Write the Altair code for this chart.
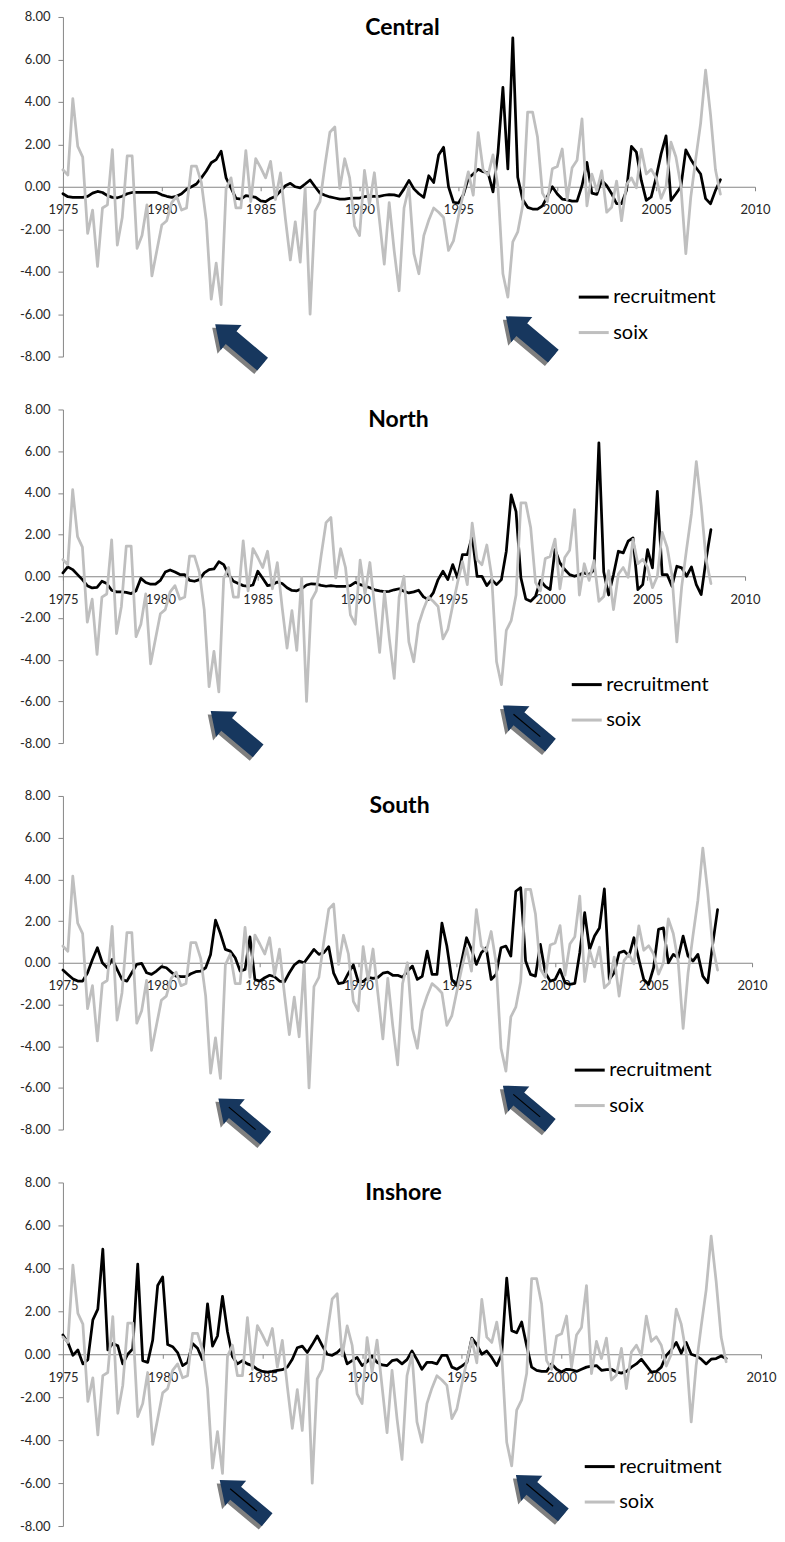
import altair as alt
import pandas as pd

# ---------------- data (quarterly, 1975 Q1 .. 2008 Q2) ----------------
SOIX = [0.8, 0.55, 4.15, 1.9, 1.4, -2.2, -1.1, -3.75, -1.0, -0.85,
        1.75, -2.75, -1.45, 1.45, 1.45, -2.9, -2.3, -0.85, -4.2, -3.0,
        -1.8, -1.6, -0.75, -0.45, -1.1, -1.0, 0.97, 0.97, 0.2, -1.6,
        -5.3, -3.6, -5.55, -0.1, 0.42, -1.0, -1.0, 1.7, -0.7, 1.33,
        0.9, 0.42, 1.2, -0.6, 0.65, -1.5, -3.45, -1.65, -3.55, -0.05,
        -6.0, -1.15, -0.7, 1.0, 2.57, 2.82, -0.08, 1.32, 0.42, -1.85,
        -2.3, 0.77, -0.85, 0.66, -1.5, -3.65, -0.75, -3.0, -4.9, -1.0,
        0.0, -3.15, -4.1, -2.3, -1.58, -1.0, -1.2, -1.45, -3.0, -2.55,
        -1.4, -0.3, 0.7, -0.4, 2.55, 0.8, 0.55, 1.5, 0.0, -4.1,
        -5.2, -2.6, -2.13, -0.9, 3.52, 3.52, 2.34, -0.3, -0.7, 0.85,
        0.95, 1.78, -0.6, 0.9, 1.25, 3.2, -0.9, 0.6, -0.2, 0.75,
        -1.2, -0.97, 0.27, -1.6, 0.1, 0.42, -0.05, 1.77, 0.6, 0.82,
        0.42, -0.55, 0.0, 2.1, 1.4, 0.05, -3.15, -0.5, 1.3, 3.0,
        5.5, 3.4, 0.8, -0.35]

CENTRAL = [-0.33, -0.47, -0.5, -0.5, -0.5, -0.45, -0.3, -0.22, -0.27, -0.42,
           -0.5, -0.52, -0.45, -0.33, -0.27, -0.27, -0.27, -0.27, -0.27, -0.27,
           -0.38, -0.45, -0.5, -0.45, -0.33, -0.12, 0.0, 0.13, 0.42, 0.74,
           1.13, 1.28, 1.68, 0.42, -0.05, -0.55, -0.58, -0.42, -0.45, -0.5,
           -0.67, -0.7, -0.55, -0.45, -0.2, 0.05, 0.16, 0.0, -0.05, 0.13,
           0.32, 0.0, -0.3, -0.4, -0.48, -0.53, -0.58, -0.58, -0.55, -0.53,
           -0.53, -0.47, -0.44, -0.45, -0.45, -0.4, -0.37, -0.38, -0.45, -0.1,
           0.3, -0.1, -0.33, -0.5, 0.52, 0.2, 1.5, 1.86, 0.0, -0.73,
           -0.77, -0.38, 0.4, 0.6, 0.82, 0.71, 0.66, -0.24, 1.6, 4.68,
           0.84, 7.02, 0.45, -0.6, -0.97, -1.05, -1.05, -0.9, -0.45, 0.0,
           -0.34, -0.58, -0.62, -0.68, -0.68, 0.05, 1.15, -0.3, -0.36, 0.3,
           0.05, -0.33, -0.8, -0.8, -0.17, 1.9, 1.63, 0.3, -0.64, -0.48,
           0.45, 1.55, 2.4, -0.64, -0.33, 0.0, 1.74, 1.3, 0.92, 0.6,
           -0.56, -0.8, -0.17, 0.33]

NORTH = [0.16, 0.45, 0.32, 0.08, -0.16, -0.45, -0.56, -0.53, -0.24, -0.35,
         -0.67, -0.75, -0.75, -0.77, -0.83, -0.7, -0.1, -0.3, -0.38, -0.38,
         -0.2, 0.2, 0.3, 0.2, 0.08, 0.08, -0.2, -0.24, -0.16, 0.16,
         0.32, 0.35, 0.7, 0.56, 0.08, -0.24, -0.35, -0.45, -0.48, -0.42,
         0.24, -0.1, -0.45, -0.4, -0.28, -0.35, -0.55, -0.68, -0.7, -0.6,
         -0.42, -0.36, -0.38, -0.44, -0.48, -0.45, -0.48, -0.48, -0.48, -0.45,
         -0.29, -0.4, -0.47, -0.55, -0.65, -0.7, -0.74,
         -0.72, -0.65, -0.6, -0.72, -0.8, -0.75, -0.67, -0.99, -1.12, -0.8, -0.16, 0.24, -0.16,
         0.56, -0.08, 1.04, 1.04, 1.92, 0.0, 0.0, -0.45, -0.16, -0.4,
         -0.16, 1.2, 3.9, 3.1, -0.08, -1.09, -1.2, -0.96, -0.2, -0.48,
         -0.64, 1.28, 0.64, 0.32, 0.08, 0.0, 0.08, 0.16, 0.08, 0.3,
         6.4, 0.2, -0.9, 0.08, 1.2, 1.12, 1.68, 1.84, -0.64, -0.4,
         1.28, 0.4, 4.07, 0.08, 0.08, -0.48, 0.48, 0.4, 0.0, 0.45,
         -0.4, -0.88, 0.8, 2.24]

SOUTH = [-0.35, -0.56, -0.77, -0.88, -0.88, -0.48, 0.16, 0.72, 0.0, -0.24,
         0.16, -0.32, -0.8, -0.88, -0.48, -0.08, -0.03, -0.48, -0.56, -0.4,
         -0.19, -0.24, -0.45, -0.64, -0.67, -0.67, -0.53, -0.43, -0.4, -0.24,
         0.4, 2.04, 1.4, 0.64, 0.56, 0.24, -0.4, -0.32, 1.24, -0.8,
         -0.88, -0.72, -0.6, -0.67, -0.88, -0.92, -0.48, -0.11, 0.08, 0.0,
         0.32, 0.64, 0.4, 0.48, 0.77, -0.5, -1.0, -0.95, -0.5, -0.1,
         -0.9, -0.9, -0.7, -0.75, -0.7, -0.5, -0.45, -0.6, -0.6, -0.7,
         -0.4, -0.16, -0.8, -0.65, 0.56, -0.56, -0.56, 1.9, 0.8, -0.8,
         -1.1, 0.08, 1.2, 0.64, -0.08, 0.48, 0.72, -0.8, -0.56, 0.72,
         0.8, 0.32, 3.43, 3.6, 0.08, -0.56, -0.64, 0.88, -0.48, -0.88,
         -0.8, -0.32, -0.96, -1.04, -0.99, 0.48, 2.4, 0.64, 1.28, 1.67,
         3.54, -0.8, -0.48, 0.48, 0.56, 0.32, 1.2, 0.16, -0.8, -1.04,
         -0.24, 1.6, 1.67, 0.0, 0.4, 0.24, 1.28, 0.32, 0.08, 0.4,
         -0.64, -0.96, 0.88, 2.55]

INSHORE = [0.9, 0.55, -0.05, 0.2, -0.45, -0.25, 1.6, 2.1, 4.9, 0.2,
           0.5, 0.4, -0.45, 0.0, 0.25, 4.2, -0.3, -0.38, 0.65, 3.2,
           3.6, 0.45, 0.35, 0.08, -0.53, -0.38, 0.5, 0.28, -0.25, 2.35,
           0.38, 0.85, 2.7, 1.05, -0.1, -0.45, -0.3, -0.45, -0.53, -0.7,
           -0.8, -0.83, -0.8, -0.75, -0.72, -0.6, -0.23, 0.3, 0.38, 0.08,
           0.45, 0.85, 0.4, 0.0, -0.05, 0.08, 0.3, -0.45, -0.3, -0.15,
           -0.53, -0.35, -0.08, -0.38, -0.5, -0.53, -0.3, -0.25, -0.45, -0.25,
           0.15, -0.25, -0.7, -0.38, -0.38, -0.45, -0.05, -0.05, -0.6, -0.7,
           -0.55, -0.38, 0.75, 0.45, 0.0, 0.15, -0.15, -0.53, 0.0, 3.55,
           1.1, 1.0, 1.5, 0.4, -0.6, -0.75, -0.8, -0.8, -0.45, -0.7,
           -0.83, -0.7, -0.72, -0.8, -0.7, -0.6, -0.55, -0.53, -0.75, -0.72,
           -0.7, -0.83, -0.88, -0.8, -0.6, -0.45, -0.23, -0.53, -0.83, -0.8,
           -0.6, -0.05, 0.2, 0.55, 0.05, 0.55, 0.0, -0.08, -0.23, -0.45,
           -0.23, -0.2, -0.08, -0.2]

TITLES = ["Central", "North", "South", "Inshore"]
RECRUITMENT = [CENTRAL, NORTH, SOUTH, INSHORE]
SERIES = ["recruitment", "soix"]
YEAR_TICKS = [1975, 1980, 1985, 1990, 1995, 2000, 2005, 2010]
Y_TICKS = [-8, -6, -4, -2, 0, 2, 4, 6, 8]

# annotation arrows (year, value) in each panel and whether they carry a thin inner line
ARROW_YEARS = [[1983.9, 1998.6], [1983.8, 1998.8], [1984.1, 1998.55], [1984.05, 1998.9]]
ARROW_VALUES = [[-7.42, -7.04], [-7.42, -7.15], [-7.46, -6.85], [-6.78, -6.55]]
ARROW_STRIPE = [[0, 0], [0, 1], [1, 1], [1, 1]]

N = len(SOIX)
for r in RECRUITMENT:
    assert len(r) == N, len(r)
YEARS = [1975 + q / 4.0 for q in range(N)]

# ---------------- layout / style ----------------
PANEL_W = [693, 683, 690, 699]
PANEL_H = [340, 334, 334, 344]
LEG_X = [515, 508, 511, 521]
LEG_Y = [264, 259, 258, 268]
TITLE_X = [340, 336, 337, 341]
TITLE_BASE = [18, 17.6, 16.7, 17.7]

FONT = "Lato"
AXIS_GREY = "#868686"
ARROW_PATH = "M -1 0 L -0.33 -0.53 L -0.33 -0.27 L 1 -0.27 L 1 0.27 L -0.33 0.27 L -0.33 0.53 Z"
STRIPE_PATH = "M -0.56 0 L 0.57 0"
ARROW_SIZE = 3844
ARROW_ANGLE = 40


def make_panel(i):
    w, h = PANEL_W[i], PANEL_H[i]
    df = pd.DataFrame({
        "year": YEARS + YEARS,
        "value": RECRUITMENT[i] + SOIX,
        "series": [SERIES[0]] * N + [SERIES[1]] * N,
    })
    x = alt.X("year:Q",
              scale=alt.Scale(domain=[1975, 2010], nice=False, zero=False),
              axis=alt.Axis(values=YEAR_TICKS, format="d", offset=-h / 2.0, grid=False,
                            labelFlush=False, labelOverlap=False, tickSize=4, labelPadding=13,
                            labelFontSize=13, labelFont=FONT, labelColor="#262626",
                            domainColor=AXIS_GREY, tickColor=AXIS_GREY, title=None))
    y = alt.Y("value:Q",
              scale=alt.Scale(domain=[-8, 8], nice=False, zero=False),
              axis=alt.Axis(values=Y_TICKS, grid=False, tickSize=5, labelPadding=8,
                            labelExpr="replace(format(datum.value, '.2f'), '\u2212', '-')",
                            labelFontSize=13, labelFont=FONT, labelColor="#262626",
                            domainColor=AXIS_GREY, tickColor=AXIS_GREY, title=None))
    lines = alt.Chart(df).mark_line(strokeWidth=2.75, strokeJoin="round", strokeCap="round").encode(
        x=x, y=y,
        color=alt.Color("series:N",
                        scale=alt.Scale(domain=SERIES, range=["#000000", "#BFBFBF"]),
                        legend=alt.Legend(orient="none", legendX=LEG_X[i], legendY=LEG_Y[i],
                                          title=None, symbolType="stroke", symbolSize=900,
                                          symbolStrokeWidth=3, labelFontSize=20, labelFont=FONT,
                                          labelColor="#000000", rowPadding=8.5, labelOffset=3,
                                          padding=0)),
    )
    adf = pd.DataFrame({"year": ARROW_YEARS[i], "value": ARROW_VALUES[i], "stripe": ARROW_STRIPE[i]})
    shadow = alt.Chart(adf).mark_point(shape=ARROW_PATH, filled=True, size=ARROW_SIZE, angle=ARROW_ANGLE,
                                       color="#7F7F7F", opacity=1, strokeWidth=0,
                                       xOffset=-3, yOffset=3.5).encode(x=x, y=y)
    arrow = alt.Chart(adf).mark_point(shape=ARROW_PATH, filled=True, size=ARROW_SIZE, angle=ARROW_ANGLE,
                                      color="#17375E", opacity=1, strokeWidth=0).encode(x=x, y=y)
    stripe = alt.Chart(adf).transform_filter("datum.stripe == 1").mark_point(
        shape=STRIPE_PATH, filled=False, size=ARROW_SIZE, angle=ARROW_ANGLE,
        color="#000000", opacity=1, strokeWidth=1.2).encode(x=x, y=y)
    title = alt.Chart(pd.DataFrame({"title": [TITLES[i]]})).mark_text(
        font=FONT, fontSize=23, fontWeight="bold", color="#000000",
        align="center", baseline="alphabetic").encode(
        x=alt.value(TITLE_X[i]), y=alt.value(TITLE_BASE[i]), text="title:N")
    return alt.layer(lines, shadow, arrow, stripe, title).properties(width=w, height=h)


chart = alt.vconcat(*[make_panel(i) for i in range(4)], spacing=53, bounds="flush").resolve_scale(
    color="independent").resolve_legend(color="independent").properties(
    padding={"left": 11, "top": 2, "right": 0, "bottom": 0}
).configure_view(strokeOpacity=0, strokeWidth=0)

chart.save("out.html", embed_options={"renderer": "svg", "actions": False})
